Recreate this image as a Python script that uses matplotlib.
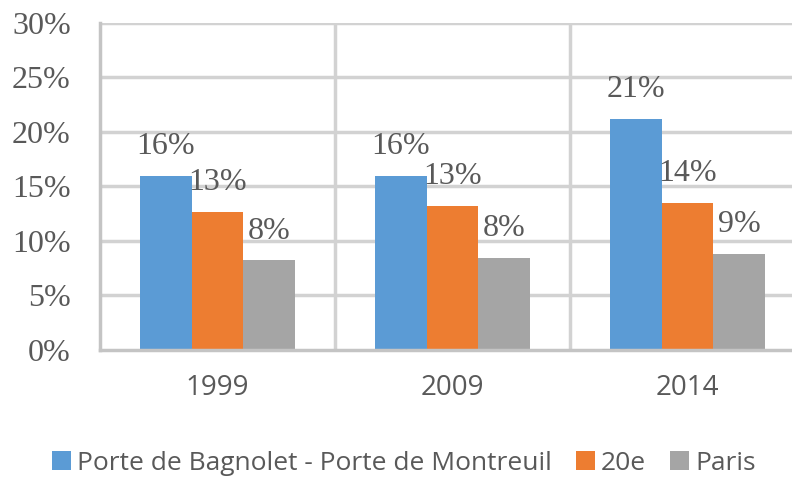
import matplotlib.pyplot as plt
import numpy as np
from matplotlib.patches import Patch

years = ["1999", "2009", "2014"]
series_names = ["Porte de Bagnolet - Porte de Montreuil", "20e", "Paris"]
bagnolet = [15.9, 15.9, 21.2]
vingtieme = [12.6, 13.2, 13.5]
paris = [8.2, 8.4, 8.8]
labels = [["16%", "16%", "21%"], ["13%", "13%", "14%"], ["8%", "8%", "9%"]]
colors = ["#5b9bd5", "#ed7d31", "#a5a5a5"]

fig = plt.figure(figsize=(7.92, 4.79), dpi=100)
# plot area runs past the right edge in the original
ax = fig.add_axes([100 / 792, 1 - 350 / 479, 705 / 792, 327.5 / 479])

x = np.arange(len(years))
w = 0.221
grid_c = "#d2d2d2"
for i, (vals, col) in enumerate(zip([bagnolet, vingtieme, paris], colors)):
    pos = x + (i - 1) * w
    ax.bar(pos, vals, width=w, color=col, zorder=3)
    for p, v, lab in zip(pos, vals, labels[i]):
        ax.text(p, v + 2.7, lab, ha="center", va="center", fontsize=23,
                family="Liberation Serif", color="#595959", zorder=4)

ax.set_xlim(-0.5, 2.5)
ax.set_ylim(0, 30)
ax.set_yticks(range(0, 31, 5))
ax.set_yticklabels([f"{v}%" for v in range(0, 31, 5)], family="Liberation Serif",
                   fontsize=23, color="#595959")
ax.set_xticks(x)
ax.set_xticklabels(years, family="Open Sans", fontsize=20, color="#595959")
ax.tick_params(axis="y", length=0, pad=21)
ax.tick_params(axis="x", length=0, pad=17)

for yv in range(5, 31, 5):
    ax.axhline(yv, color=grid_c, lw=2.5, zorder=1)
for xv in [0.5, 1.5]:
    ax.axvline(xv, color=grid_c, lw=2.5, zorder=1)
for s in ["top", "right"]:
    ax.spines[s].set_visible(False)
for s in ["left", "bottom"]:
    ax.spines[s].set_color("#c4c4c4")
    ax.spines[s].set_linewidth(2.5)
    ax.spines[s].set_zorder(5)

handles = [Patch(facecolor=c) for c in colors]
fig.legend(handles, series_names, loc="center", bbox_to_anchor=(404 / 792, 1 - 463 / 479),
           ncol=3, frameon=False, prop={"family": "Open Sans", "size": 19},
           labelcolor="#595959", handlelength=0.7, handleheight=0.7,
           handletextpad=0.25, columnspacing=0.9)

fig.savefig("out.png", dpi=100)
